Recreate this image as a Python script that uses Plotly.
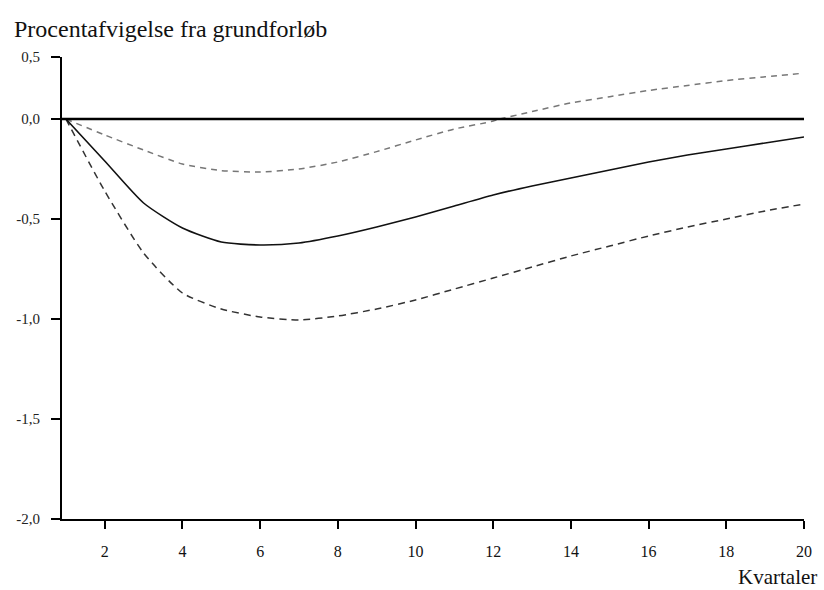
import plotly.graph_objects as go
from plotly.subplots import make_subplots

quarters = list(range(1, 21))
central = [0.0, -0.21, -0.42, -0.545, -0.615, -0.63, -0.62, -0.585, -0.54, -0.49,
           -0.435, -0.38, -0.335, -0.295, -0.255, -0.215, -0.18, -0.15, -0.12, -0.09]
lower_band = [0.0, -0.36, -0.67, -0.87, -0.95, -0.99, -1.005, -0.985, -0.95, -0.905,
              -0.85, -0.795, -0.74, -0.685, -0.635, -0.585, -0.54, -0.5, -0.46, -0.425]
upper_band = [0.0, -0.08, -0.155, -0.225, -0.258, -0.265, -0.25, -0.215, -0.163, -0.105,
              -0.05, -0.01, 0.06, 0.13, 0.18, 0.23, 0.27, 0.31, 0.34, 0.37]

y_ticks_top = [0.5]
y_labels_top = ["0,5"]
y_ticks_low = [0.0, -0.5, -1.0, -1.5, -2.0]
y_labels_low = ["0,0", "-0,5", "-1,0", "-1,5", "-2,0"]
x_ticks = list(range(2, 21, 2))

W, H = 824, 590
ml, mr, mt, mb = 62, 16, 57, 71
plot_w = W - ml - mr
plot_h = H - mt - mb
split = 400 / plot_h

fig = make_subplots(rows=2, cols=1, shared_xaxes=True, vertical_spacing=0,
                    row_heights=[1 - split, split])

font_family = "Liberation Serif"
for row in (1, 2):
    fig.add_trace(go.Scatter(x=quarters, y=upper_band, mode="lines",
                             line=dict(color="#777777", width=1.5, dash="6px,5px",
                                       shape="spline", smoothing=0.6),
                             showlegend=False, hoverinfo="skip"), row=row, col=1)
    fig.add_trace(go.Scatter(x=quarters, y=lower_band, mode="lines",
                             line=dict(color="#333333", width=1.5, dash="7px,5px",
                                       shape="spline", smoothing=0.6),
                             showlegend=False, hoverinfo="skip"), row=row, col=1)
    fig.add_trace(go.Scatter(x=quarters, y=central, mode="lines",
                             line=dict(color="#111111", width=1.6,
                                       shape="spline", smoothing=0.6),
                             showlegend=False, hoverinfo="skip"), row=row, col=1)

# baseline (grundforløb) at the boundary between the two panels
fig.add_shape(type="line", xref="paper", x0=0, x1=1, yref="paper", y0=split, y1=split,
              line=dict(color="black", width=2.4))

xr = [0.9, 20.0]
fig.update_xaxes(range=xr, showgrid=False, zeroline=False)
fig.update_xaxes(row=1, col=1, showticklabels=False, ticks="", showline=False)
fig.update_xaxes(row=2, col=1, showline=True, linecolor="black", linewidth=2,
                 ticks="outside", ticklen=8, tickwidth=2, tickcolor="black",
                 tickvals=x_ticks, ticktext=[str(v) for v in x_ticks],
                 ticklabelstandoff=9,
                 tickfont=dict(family=font_family, size=16, color="#111"))

yaxis_common = dict(showgrid=False, zeroline=False, showline=True, linecolor="black",
                    linewidth=2, ticks="outside", ticklen=9, tickwidth=2,
                    tickcolor="black", ticklabelstandoff=8,
                    tickfont=dict(family=font_family, size=15, color="#222"))
fig.update_yaxes(row=1, col=1, range=[0, 0.5], tickvals=y_ticks_top,
                 ticktext=y_labels_top, **yaxis_common)
fig.update_yaxes(row=2, col=1, range=[-2.0, 0.0], tickvals=y_ticks_low,
                 ticktext=y_labels_low, **yaxis_common)

fig.add_annotation(text="Procentafvigelse fra grundforløb", xref="paper", yref="paper",
                   x=(12 - ml) / plot_w, y=1 + (mt - 29) / plot_h,
                   xanchor="left", yanchor="middle", showarrow=False,
                   font=dict(family=font_family, size=24, color="#111"))
fig.add_annotation(text="Kvartaler", xref="paper", yref="paper",
                   x=(823 - ml) / plot_w, y=-(577 - (H - mb)) / plot_h,
                   xanchor="right", yanchor="middle", showarrow=False,
                   font=dict(family=font_family, size=21, color="#111"))

fig.update_layout(width=W, height=H, margin=dict(l=ml, r=mr, t=mt, b=mb),
                  paper_bgcolor="white", plot_bgcolor="white", showlegend=False)

fig.write_html("out.html", config={"displayModeBar": False},
               post_script="document.body.style.margin='0';document.body.style.overflow='hidden';")
